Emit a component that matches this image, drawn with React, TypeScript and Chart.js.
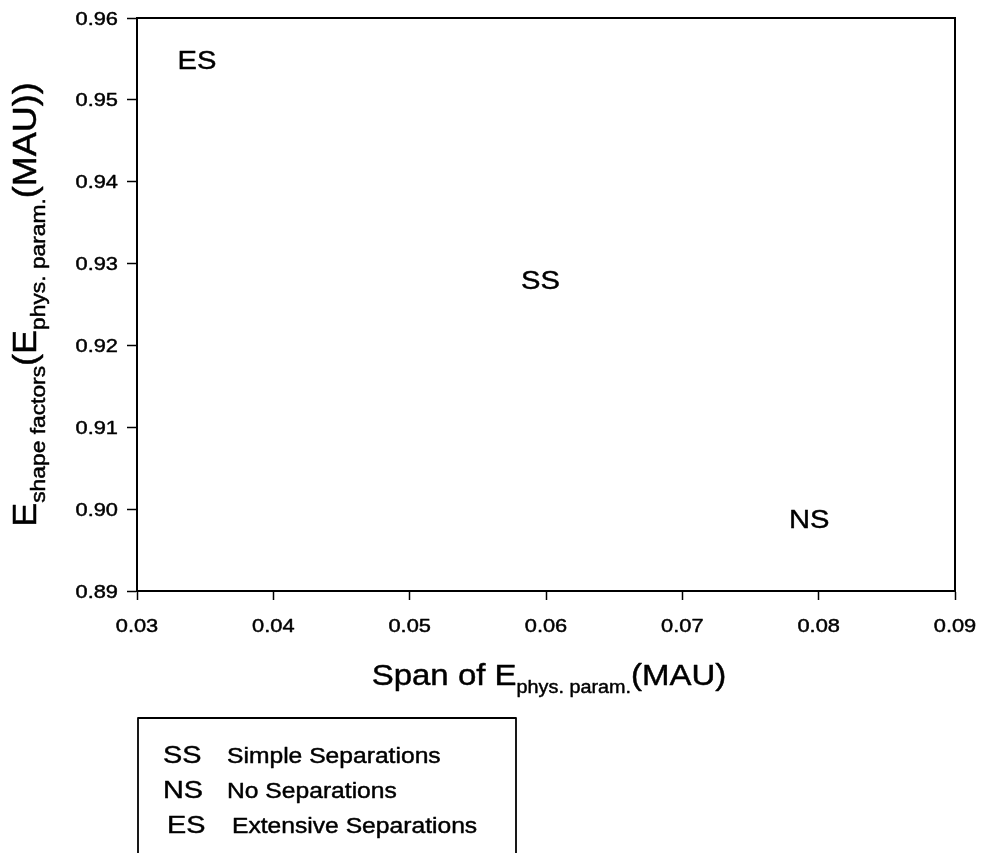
import React, { useEffect, useRef } from "react";
import { Chart, registerables } from "chart.js";

Chart.register(...registerables);

// ---- data ----
const pointLabels = ["ES", "SS", "NS"];
const xValues = [0.0344, 0.0596, 0.0793];
const yValues = [0.9549, 0.928, 0.8988];

const xTickValues = [0.03, 0.04, 0.05, 0.06, 0.07, 0.08, 0.09];
const yTickValues = [0.89, 0.9, 0.91, 0.92, 0.93, 0.94, 0.95, 0.96];

const legendCodes = ["SS", "NS", "ES"];
const legendNames = ["Simple Separations", "No Separations", "Extensive Separations"];

const xTitleParts = [
  { text: "Span of E", sub: false },
  { text: "phys. param.", sub: true },
  { text: "(MAU)", sub: false },
];
const yTitleParts = [
  { text: "E", sub: false },
  { text: "shape factors", sub: true },
  { text: "(E", sub: false },
  { text: "phys. param.", sub: true },
  { text: "(MAU))", sub: false },
];

const FONT = "'Liberation Sans', Arial, Helvetica, sans-serif";
const INK = 0.45;

type Part = { text: string; sub: boolean };

function richWidth(ctx: CanvasRenderingContext2D, parts: Part[], main: number, sub: number) {
  let w = 0;
  for (const p of parts) {
    ctx.font = `${p.sub ? sub : main}px ${FONT}`;
    w += ctx.measureText(p.text).width;
  }
  return w;
}

function ink(ctx: CanvasRenderingContext2D, text: string, x: number, y: number) {
  ctx.fillText(text, x, y);
  ctx.strokeText(text, x, y);
}

// draws rich text in current transform, starting at (x0, baseline)
function drawRich(ctx: CanvasRenderingContext2D, parts: Part[], x0: number, baseline: number, main: number, sub: number, subDrop: number) {
  let x = x0;
  ctx.textAlign = "left";
  ctx.textBaseline = "alphabetic";
  for (const p of parts) {
    ctx.font = `${p.sub ? sub : main}px ${FONT}`;
    ink(ctx, p.text, x, baseline + (p.sub ? subDrop : 0));
    x += ctx.measureText(p.text).width;
  }
}

function drawText(
  ctx: CanvasRenderingContext2D,
  text: string,
  x: number,
  y: number,
  size: number,
  stretch: number,
  align: CanvasTextAlign,
  baseline: CanvasTextBaseline
) {
  ctx.save();
  ctx.translate(x, y);
  ctx.scale(stretch, 1);
  ctx.font = `${size}px ${FONT}`;
  ctx.textAlign = align;
  ctx.textBaseline = baseline;
  ink(ctx, text, 0, 0);
  ctx.restore();
}

const overlayPlugin = {
  id: "overlay",
  afterDraw(chart: any) {
    const ctx: CanvasRenderingContext2D = chart.ctx;
    const a = chart.chartArea;
    const xs = chart.scales.x;
    const ys = chart.scales.y;
    ctx.save();
    ctx.fillStyle = "#000";
    ctx.strokeStyle = "#000";

    // box top & right
    ctx.lineWidth = 2;
    ctx.beginPath();
    ctx.moveTo(a.left - 1, a.top);
    ctx.lineTo(a.right, a.top);
    ctx.lineTo(a.right, a.bottom);
    ctx.stroke();

    ctx.lineWidth = INK;
    ctx.lineJoin = "round";

    // tick labels
    xs.ticks.forEach((t: any) => {
      const px = xs.getPixelForValue(t.value);
      drawText(ctx, Number(t.value).toFixed(2), px, a.bottom + 41, 18.5, 1.18, "center", "alphabetic");
    });
    ys.ticks.forEach((t: any) => {
      const py = ys.getPixelForValue(t.value);
      drawText(ctx, Number(t.value).toFixed(2), a.left - 19, py + 6.5, 18.5, 1.18, "right", "alphabetic");
    });

    // point text labels
    const meta = chart.getDatasetMeta(0);
    meta.data.forEach((el: any, i: number) => {
      drawText(ctx, pointLabels[i], el.x, el.y + 9.5, 26, 1.12, "center", "alphabetic");
    });

    // x title
    const xStretch = 1.1;
    const xw = richWidth(ctx, xTitleParts, 30, 18) * xStretch;
    const cx = (a.left + a.right) / 2 + 3;
    ctx.save();
    ctx.translate(cx - xw / 2, a.bottom + 94);
    ctx.scale(xStretch, 1);
    drawRich(ctx, xTitleParts, 0, 0, 30, 18, 8);
    ctx.restore();

    // y title (rotated)
    const yStretch = 1.2;
    const yw = richWidth(ctx, yTitleParts, 30, 19) * yStretch;
    const cy = (a.top + a.bottom) / 2;
    ctx.save();
    ctx.translate(36, cy);
    ctx.rotate(-Math.PI / 2);
    ctx.scale(yStretch, 1.1);
    drawRich(ctx, yTitleParts, -yw / 2 / yStretch, 0, 30, 19, 8);
    ctx.restore();

    // legend box
    const boxTop = a.bottom + 127;
    const boxLeft = a.left + 1;
    const boxRight = 516;
    ctx.lineWidth = 1.8;
    ctx.beginPath();
    ctx.moveTo(boxLeft, chart.height + 5);
    ctx.lineTo(boxLeft, boxTop);
    ctx.lineTo(boxRight, boxTop);
    ctx.lineTo(boxRight, chart.height + 5);
    ctx.stroke();

    ctx.lineWidth = INK;
    legendCodes.forEach((code, i) => {
      const base = boxTop + 45 + i * 35;
      const isES = code === "ES";
      drawText(ctx, code, boxLeft + (isES ? 29 : 25), base, 24, 1.2, "left", "alphabetic");
      drawText(ctx, legendNames[i], boxLeft + (isES ? 94 : 89), base, 22, 1.12, "left", "alphabetic");
    });

    ctx.restore();
  },
};

export default function App() {
  const ref = useRef<HTMLCanvasElement>(null);
  useEffect(() => {
    if (!ref.current) return;
    const chart = new Chart(ref.current, {
      type: "scatter",
      data: {
        datasets: [
          {
            data: xValues.map((x, i) => ({ x, y: yValues[i] })),
            pointRadius: 0,
            pointHoverRadius: 0,
            showLine: false,
          },
        ],
      },
      options: {
        animation: false,
        responsive: false,
        maintainAspectRatio: false,
        layout: { padding: { top: 18, right: 27, left: 0, bottom: 0 } },
        plugins: { legend: { display: false }, tooltip: { enabled: false } },
        events: [],
        scales: {
          x: {
            type: "linear",
            min: 0.03,
            max: 0.09,
            afterBuildTicks: (s: any) => {
              s.ticks = xTickValues.map((v) => ({ value: v }));
            },
            afterFit: (s: any) => {
              s.height = 262;
            },
            grid: { display: true, drawOnChartArea: false, drawTicks: true, tickLength: 9, tickColor: "#000", tickWidth: 1.5 },
            border: { display: true, color: "#000", width: 2 },
            ticks: { display: false, autoSkip: false },
          },
          y: {
            type: "linear",
            min: 0.89,
            max: 0.96,
            afterBuildTicks: (s: any) => {
              s.ticks = yTickValues.map((v) => ({ value: v }));
            },
            afterFit: (s: any) => {
              s.width = 137;
            },
            grid: { display: true, drawOnChartArea: false, drawTicks: true, tickLength: 10, tickColor: "#000", tickWidth: 1.5 },
            border: { display: true, color: "#000", width: 2 },
            ticks: { display: false, autoSkip: false },
          },
        },
      },
      plugins: [overlayPlugin],
    });
    return () => chart.destroy();
  }, []);
  return (
    <div style={{ position: "fixed", left: 0, top: 0, width: "982px", height: "853px", background: "#fff" }}>
      <canvas ref={ref} width={982} height={853} style={{ width: "982px", height: "853px", display: "block" }} />
    </div>
  );
}
